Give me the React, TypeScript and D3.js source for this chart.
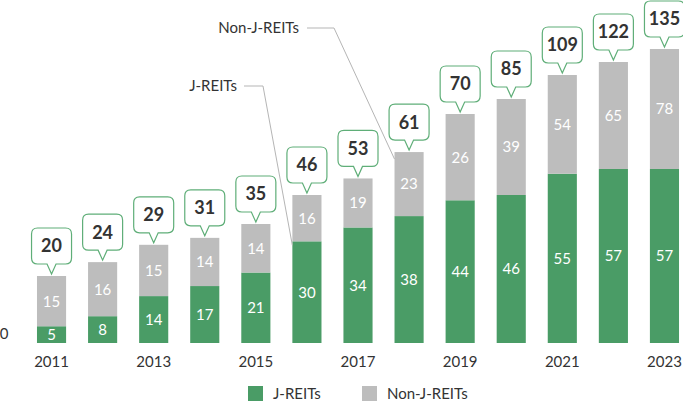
import React from "react";
import * as d3 from "d3";

const years = ["2011", "2012", "2013", "2014", "2015", "2016", "2017", "2018", "2019", "2020", "2021", "2022", "2023"];
const jReits = [5, 8, 14, 17, 21, 30, 34, 38, 44, 46, 55, 57, 57];
const nonJReits = [15, 16, 15, 14, 14, 16, 19, 23, 26, 39, 54, 65, 78];
const tickYears = ["2011", "2013", "2015", "2017", "2019", "2021", "2023"];
const seriesNames = ["J-REITs", "Non-J-REITs"];

const W = 683;
const H = 415;
const GREEN = "#4a9c66";
const GRAY = "#bdbdbd";
const BUBBLE = "#5fae78";
const TEXT = "#333333";
const FONT = "Lato, 'Open Sans', sans-serif";

export default function App() {
  const rows = years.map((y, i) => ({ year: y, j: jReits[i], n: nonJReits[i] }));
  const stack = d3.stack<any>().keys(["j", "n"]);
  const series = stack(rows);
  const totals = rows.map((r) => r.j + r.n);

  const x = d3.scaleBand<string>().domain(years).range([26, 690]).paddingInner(0.43).paddingOuter(0.215);
  // the reference's bars are not drawn to a single linear scale; piecewise scale mimics it
  const y = d3.scaleLinear().domain([0, 20, 35, 46, 57, 70, 135]).range([343, 276, 224, 195, 169, 114, 49]);

  const bw = x.bandwidth();
  const colors = [GREEN, GRAY];

  const bubbleW = 40;
  const bubbleH = 36;

  const bubblePath = (cx: number, top: number) => {
    const tip = top - 2;
    const b = top - 12;
    const t = b - bubbleH;
    const l = cx - bubbleW / 2;
    const r = cx + bubbleW / 2;
    const rr = 6;
    return `M${l + rr},${t} H${r - rr} Q${r},${t} ${r},${t + rr} V${b - rr} Q${r},${b} ${r - rr},${b} H${cx + 4.5} L${cx},${tip} L${cx - 4.5},${b} H${l + rr} Q${l},${b} ${l},${b - rr} V${t + rr} Q${l},${t} ${l + rr},${t} Z`;
  };

  // annotation leader lines
  const jIdx = years.indexOf("2016");
  const nIdx = years.indexOf("2018");
  const jEnd = [x(years[jIdx])!, y(jReits[jIdx]) + 4];
  const nEnd = [x(years[nIdx])!, y(totals[nIdx]) + 7];

  return (
    <svg width={W} height={H} style={{ position: "absolute", left: 0, top: 0, background: "#fff" }} fontFamily={FONT}>
      {series.map((s, si) =>
        s.map((d, i) => (
          <rect key={`${si}-${i}`} x={x(years[i])} y={y(d[1])} width={bw} height={y(d[0]) - y(d[1])} fill={colors[si]} />
        ))
      )}
      {series.map((s, si) =>
        s.map((d, i) => (
          <text
            key={`l${si}-${i}`}
            x={x(years[i])! + bw / 2}
            y={(y(d[0]) + y(d[1])) / 2}
            dy="0.36em"
            textAnchor="middle"
            fill="#fff"
            fontSize={15}
          >
            {si === 0 ? jReits[i] : nonJReits[i]}
          </text>
        ))
      )}
      {totals.map((t, i) => {
        const cx = x(years[i])! + bw / 2;
        const top = y(t);
        return (
          <g key={`b${i}`}>
            <path d={bubblePath(cx, top)} fill="#fff" stroke={BUBBLE} strokeWidth={1.2} />
            <text x={cx} y={top - 12 - bubbleH / 2} dy="0.36em" textAnchor="middle" fontWeight={700} fontSize={18} fill={TEXT}>
              {t}
            </text>
          </g>
        );
      })}
      {tickYears.map((ty) => (
        <text key={ty} x={x(ty)! + bw / 2} y={367} textAnchor="middle" fontSize={15} fill={TEXT}>
          {ty}
        </text>
      ))}
      <text x={8.5} y={339} textAnchor="end" fontSize={15} fill={TEXT}>
        0
      </text>

      {/* annotations */}
      <text x={237} y={86} dy="0.36em" textAnchor="end" fontSize={15} fill={TEXT}>
        {seriesNames[0]}
      </text>
      <polyline points={`244,86 263,86 ${jEnd[0]},${jEnd[1]}`} fill="none" stroke="#b5b5b5" strokeWidth={1} />
      <text x={299} y={28} dy="0.36em" textAnchor="end" fontSize={15} fill={TEXT}>
        {seriesNames[1]}
      </text>
      <polyline points={`307,28 334,28 ${nEnd[0]},${nEnd[1]}`} fill="none" stroke="#b5b5b5" strokeWidth={1} />

      {/* legend */}
      <rect x={248} y={386} width={15} height={15} fill={GREEN} />
      <text x={273} y={393.5} dy="0.36em" fontSize={15} fill={TEXT}>
        {seriesNames[0]}
      </text>
      <rect x={362} y={386} width={15} height={15} fill={GRAY} />
      <text x={387} y={393.5} dy="0.36em" fontSize={15} fill={TEXT}>
        {seriesNames[1]}
      </text>
    </svg>
  );
}
